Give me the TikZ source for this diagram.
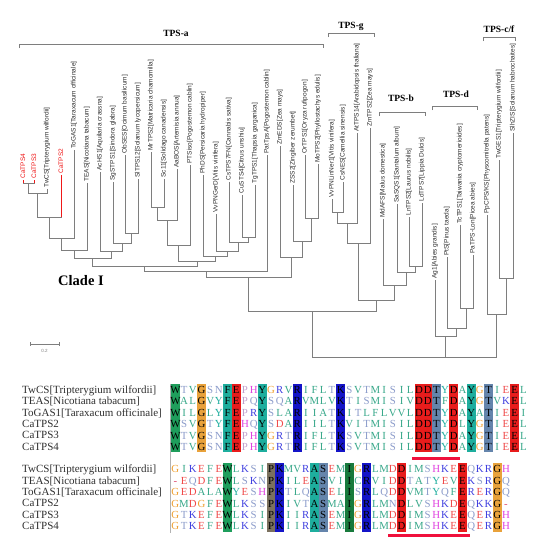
\documentclass[tikz,border=0pt]{standalone}
\usepackage{fontspec}
\setmainfont{Liberation Serif}
\newfontfamily\lsans{Liberation Sans}
\usetikzlibrary{calc}
\definecolor{treegray}{HTML}{7E7E7E}
\definecolor{labgray}{HTML}{2E2E2E}
\definecolor{capred}{HTML}{F01818}
\definecolor{nmgray}{HTML}{303030}
\definecolor{bGreen}{HTML}{1F9E5C}
\definecolor{bOrange}{HTML}{E9A23B}
\definecolor{bTeal}{HTML}{1EAE9E}
\definecolor{bRed}{HTML}{E81C1C}
\definecolor{bBlue}{HTML}{1414C8}
\definecolor{bSteel}{HTML}{6585AC}
\definecolor{bTaupe}{HTML}{7B715F}
\definecolor{bDkGreen}{HTML}{187A3C}
\definecolor{hyd}{HTML}{38A88A}
\definecolor{pol}{HTML}{8C9CCB}
\definecolor{acid}{HTML}{F04848}
\definecolor{bas}{HTML}{4040E0}
\definecolor{his}{HTML}{E040E0}
\definecolor{gly}{HTML}{F0A030}
\definecolor{pro}{HTML}{C0A0CC}
\definecolor{tyr}{HTML}{22AFA0}
\definecolor{gapc}{HTML}{E05070}
\definecolor{uline}{HTML}{F0103C}
\colorlet{rcA}{hyd}\colorlet{rcI}{hyd}\colorlet{rcL}{hyd}\colorlet{rcM}{hyd}
\colorlet{rcF}{hyd}\colorlet{rcV}{hyd}\colorlet{rcW}{hyd}\colorlet{rcC}{hyd}
\colorlet{rcS}{pol}\colorlet{rcT}{pol}\colorlet{rcN}{pol}\colorlet{rcQ}{pol}
\colorlet{rcD}{acid}\colorlet{rcE}{acid}\colorlet{rcK}{bas}\colorlet{rcR}{bas}
\colorlet{rcH}{his}\colorlet{rcG}{gly}\colorlet{rcP}{pro}\colorlet{rcY}{tyr}
\tikzset{
  br/.style={draw=treegray, line width=0.8pt},
  lab/.style={font=\lsans\fontsize{6.5}{6.5}\selectfont, rotate=90, anchor=west, inner sep=0pt, outer sep=0pt},
  grp/.style={font=\bfseries\fontsize{9.5}{10}\selectfont, inner sep=0pt},
  res/.style={font=\fontsize{10.8}{11}\selectfont, inner sep=0pt, anchor=base},
  nm/.style={font=\fontsize{11}{11}\selectfont, inner sep=0pt, anchor=base west, text=nmgray},
}
\newcommand\leaf[5]{\coordinate (#1) at (#2,#3); \node[lab,text=#5] (#1t) at ([yshift=1.5pt]#1) {#4};}
\newcommand\jn[4]{\coordinate (tmpm) at ($(#2)!.5!(#3)$); \coordinate (tmpy) at (0,#4);
  \coordinate (#1) at (tmpm |- tmpy); \draw[br] (#2) -- (#2 |- #1) -- (#3 |- #1) -- (#3);}
\newcommand\alrow[4]{%
  \foreach \rr [count=\ci] in {#4} {
    \ifcsname bx#1\ci\endcsname \def\rcol{black}\else\if\rr-\def\rcol{gapc}\else\edef\rcol{rc\rr}\fi\fi
    \node[res,text=\rcol] (r#1#2c\ci) at ({171+(\ci-0.5)*8.7},{#3+3.7}) {\rr};
  }}
\begin{document}
\begin{tikzpicture}[x=1pt,y=-1pt]
\useasboundingbox (0,0) rectangle (534,550);
\fill[white] (0,0) rectangle (534,550);
% leaves
\leaf{L1}{23}{180}{CaTPS4}{capred}
\leaf{L2}{34}{180}{CaTPS3}{capred}
\leaf{L3}{47}{189}{TwCS[Tripterygium wilfordii]}{labgray}
\leaf{L4}{61}{175}{CaTPS2}{capred}
\leaf{L5}{74}{150}{ToGAS1[Taraxacum officinale]}{labgray}
\leaf{L6}{87}{183}{TEAS[Nicotiana tabacum]}{labgray}
\leaf{L7}{100}{172}{AcHS1[Aquilaria crassna]}{labgray}
\leaf{L8}{113}{182}{SgSTPS1[Sindora glabra]}{labgray}
\leaf{L9}{125}{155}{ObSES[Ocimum basilicum]}{labgray}
\leaf{L10}{138}{179}{SlTPS12[Solanum lycopersicum]}{labgray}
\leaf{L11}{151}{152}{MrTPS2[Matricaria chamomilla]}{labgray}
\leaf{L12}{164}{179}{Sc11[Solidago canadensis]}{labgray}
\leaf{L13}{177}{169}{AaBOS[Artemisia annua]}{labgray}
\leaf{L14}{190}{165}{PTSiso[Pogostemon cablin]}{labgray}
\leaf{L15}{203}{175}{PhDS[Persicaria hydropiper]}{labgray}
\leaf{L16}{216}{214}{VvPNGerD[Vitis vinifera]}{labgray}
\leaf{L17}{229}{182}{CsTPS7FN[Cannabis sativa]}{labgray}
\leaf{L18}{242}{195}{CuSTS4[Citrus unshiu]}{labgray}
\leaf{L19}{255}{185}{TgTPS1[Thapsia garganica]}{labgray}
\leaf{L20}{267}{155}{PatTpsA[Pogostemon cablin]}{labgray}
\leaf{L21}{280}{146}{ZmEDS[Zea mays]}{labgray}
\leaf{L22}{293}{185}{ZSS2[Zingiber zerumbet]}{labgray}
\leaf{L23}{305}{155}{OrTPS1[Oryza rufipogon]}{labgray}
\leaf{L24}{318}{164}{MoTPS2[Phyllostachys edulis]}{labgray}
\leaf{L25}{332}{199}{VvPNLinNer1[Vitis vinifera]}{labgray}
\leaf{L26}{343}{182}{CsNES[Camellia sinensis]}{labgray}
\leaf{L27}{357}{133}{AtTPS14[Arabidopsis thaliana]}{labgray}
\leaf{L28}{370}{128}{ZmTPS2[Zea mays]}{labgray}
\leaf{L29}{383}{219}{MdAFS[Malus domestica]}{labgray}
\leaf{L30}{397}{204}{SaSQS1[Santalum album]}{labgray}
\leaf{L31}{409}{217}{LnTPS2[Laurus nobilis]}{labgray}
\leaf{L32}{422}{203}{LdTPS7[Lippia Dulcis]}{labgray}
\leaf{L33}{435}{280}{Ag1[Abies grandis]}{labgray}
\leaf{L34}{447}{257}{PtS[Pinus taeda]}{labgray}
\leaf{L35}{460}{225}{TcTPS1[Taiwania cryptomerioides]}{labgray}
\leaf{L36}{473}{255}{PaTPS-Lon[Picea abies]}{labgray}
\leaf{L37}{487}{215}{PpCPS/KS[Physcomitrella patens]}{labgray}
\leaf{L38}{499}{160}{TwGES1[Tripterygium wilfordii]}{labgray}
\leaf{L39}{513}{133}{SlhZIS[Solanum habrochaites]}{labgray}
% joins
\jn{j1}{L1}{L2}{183}
\jn{j2}{j1}{L3}{193}
\jn{j3}{j2}{L4}{217}
\jn{j4}{j3}{L5}{238}
\jn{j5}{j4}{L6}{250}
\jn{j6}{L9}{L10}{233}
\jn{j7}{L8}{j6}{243}
\jn{j8}{L7}{j7}{251}
\jn{j9}{j5}{j8}{258}
\jn{j10}{L11}{L12}{207}
\jn{j11}{j10}{L13}{220}
\jn{j12}{j11}{L14}{245}
\jn{j13}{L18}{L19}{237}
\jn{j14}{L17}{j13}{242}
\jn{j15}{L16}{j14}{251}
\jn{j16}{L15}{j15}{256}
\jn{j17}{j12}{j16}{261}
\jn{j18}{j9}{j17}{266}
\jn{j19}{j18}{L20}{271}
\jn{j20}{L23}{L24}{218}
\jn{j21}{L22}{j20}{241}
\jn{j22}{L21}{j21}{257}
\jn{j23}{j19}{j22}{277}
\jn{j24}{L25}{L26}{212}
\jn{j25}{j24}{L27}{223}
\jn{j26}{j25}{L28}{243}
\jn{j27}{L31}{L32}{266}
\jn{j28}{L30}{j27}{272}
\jn{j29}{L29}{j28}{285}
\jn{j30}{j26}{j29}{300}
\jn{j31}{j23}{j30}{311}
\jn{j32}{L35}{L36}{308}
\jn{j33}{L34}{j32}{328}
\jn{j34}{L33}{j33}{336}
\jn{j35}{L38}{L39}{278}
\jn{j36}{L37}{j35}{314}
\jn{j37}{j34}{j36}{357}
\jn{j38}{j31}{j37}{357}
\draw[br,draw=capred] (L1) -- (L1 |- j1) (L2) -- (L2 |- j1) (L4) -- (L4 |- j3);
% group brackets
\draw[br] (19,48) -- (19,44) -- (323,44) -- (323,48);
\node[grp] (ga) at (176,33) {TPS-a};
\draw[br] (328,37) -- (328,33) -- (374,33) -- (374,37);
\node[grp] (gg) at (351,26) {TPS-g};
\draw[br] (379,116) -- (379,112) -- (425,112) -- (425,116);
\node[grp] (gb) at (401,98) {TPS-b};
\draw[br] (432,110) -- (432,106) -- (477,106) -- (477,110);
\node[grp] (gd) at (456,94) {TPS-d};
\draw[br] (483,41) -- (483,37) -- (515,37) -- (515,41);
\node[grp] (gc) at (499,29) {TPS-c/f};
\node[font=\bfseries\fontsize{14.5}{15}\selectfont, inner sep=0pt] (clade) at (81,281) {Clade I};
% scale bar
\draw[treegray, line width=0.6pt] (30,344) -- (59,344) (30,342) -- (30,346) (59,342) -- (59,346);
\node[font=\lsans\fontsize{4.5}{5}\selectfont, text=treegray, inner sep=0pt] (sc) at (44.5,351) {0.2};
% alignment block 1
\foreach \cc/\bxc in {1/bGreen,4/bOrange,7/bTeal,8/bRed,11/bTeal,15/bBlue,20/bBlue,29/bRed,30/bRed,31/bSteel,33/bRed,35/bTeal,37/bSteel,40/bRed} {
  \expandafter\gdef\csname bxA\cc\endcsname{}
  \fill[\bxc] ({171+(\cc-1)*8.7},383.8) rectangle ++(8.7,68.6);
}
\foreach \cc/\bxc in {7/bGreen,12/bTaupe,13/bBlue,17/bTeal,18/bSteel,21/bDkGreen,23/bBlue,27/bRed,34/bRed,38/bOrange} {
  \expandafter\gdef\csname bxB\cc\endcsname{}
  \fill[\bxc] ({171+(\cc-1)*8.7},463.3) rectangle ++(8.7,68.6);
}
\draw[draw=black!30, line width=0.7pt] (170.3,383.8) -- (170.3,533);
\alrow{A}{1}{389.5}{W,T,V,G,S,N,F,E,P,H,Y,G,R,V,R,I,F,L,T,K,S,V,T,M,I,S,I,L,D,D,T,Y,D,A,Y,G,T,I,E,E,L}
\alrow{A}{2}{400.95}{W,A,L,G,V,Y,F,E,P,Q,Y,S,Q,A,R,V,M,L,V,K,T,I,S,M,I,S,I,V,D,D,T,F,D,A,Y,G,T,V,K,E,L}
\alrow{A}{3}{412.4}{W,I,L,G,L,Y,F,E,P,R,Y,S,L,A,R,I,I,A,T,K,I,T,L,F,L,V,V,L,D,D,T,Y,D,A,Y,A,T,I,E,E,I}
\alrow{A}{4}{423.85}{W,S,V,G,T,Y,F,E,H,Q,Y,S,D,A,R,I,I,L,T,K,V,I,T,M,I,S,I,L,D,D,T,Y,D,L,Y,G,T,I,E,E,L}
\alrow{A}{5}{435.3}{W,T,V,G,S,N,F,E,P,H,Y,G,R,T,R,I,F,L,T,K,S,V,T,M,I,S,I,L,D,D,T,Y,D,A,Y,G,T,I,E,E,L}
\alrow{A}{6}{446.75}{W,T,V,G,S,N,F,E,P,H,Y,G,R,T,R,I,F,L,T,K,S,V,T,M,I,S,I,L,D,D,T,Y,D,A,Y,G,T,I,E,E,L}
\alrow{B}{1}{469}{G,I,K,E,F,E,W,L,K,S,I,P,K,M,V,R,A,S,E,M,I,G,R,L,M,D,D,I,M,S,H,K,E,E,Q,K,R,G,H}
\alrow{B}{2}{480.45}{-,E,Q,D,F,E,W,L,S,K,N,P,K,I,L,E,A,S,V,I,I,C,R,V,I,D,D,T,A,T,Y,E,V,E,K,S,R,G,Q}
\alrow{B}{3}{491.9}{G,E,D,A,L,A,W,Y,E,S,H,P,K,T,L,Q,A,S,E,L,I,S,R,L,Q,D,D,V,M,T,Y,Q,F,E,R,E,R,G,Q}
\alrow{B}{4}{503.35}{G,M,D,G,F,E,W,L,K,S,S,P,K,I,V,T,A,S,M,A,I,G,R,L,M,N,D,L,V,S,H,K,D,E,Q,K,K,G,-}
\alrow{B}{5}{514.8}{G,T,K,E,F,E,W,L,K,S,I,P,K,I,I,R,A,S,E,M,I,G,R,L,M,D,D,I,M,S,H,K,E,E,Q,E,R,G,H}
\alrow{B}{6}{526.25}{G,T,K,E,F,E,W,L,K,S,I,P,K,I,I,R,A,S,E,M,I,G,R,L,M,D,D,I,M,S,H,K,E,E,Q,E,R,G,H}
% names
\node[nm] (nA1) at (22,393.1) {TwCS[Tripterygium wilfordii]};
\node[nm] (nA2) at (22,404.55) {TEAS[Nicotiana tabacum]};
\node[nm] (nA3) at (22,416) {ToGAS1[Taraxacum officinale]};
\node[nm] (nA4) at (22,427.45) {CaTPS2};
\node[nm] (nA5) at (22,438.9) {CaTPS3};
\node[nm] (nA6) at (22,450.35) {CaTPS4};
\node[nm] (nB1) at (22,472.6) {TwCS[Tripterygium wilfordii]};
\node[nm] (nB2) at (22,484.05) {TEAS[Nicotiana tabacum]};
\node[nm] (nB3) at (22,495.5) {ToGAS1[Taraxacum officinale]};
\node[nm] (nB4) at (22,506.95) {CaTPS2};
\node[nm] (nB5) at (22,518.4) {CaTPS3};
\node[nm] (nB6) at (22,529.85) {CaTPS4};
% underlines
\draw[uline, line width=3pt] (412,458.5) -- (460,458.5);
\draw[uline, line width=3pt] (388,535.5) -- (470,535.5);
\end{tikzpicture}
\end{document}
